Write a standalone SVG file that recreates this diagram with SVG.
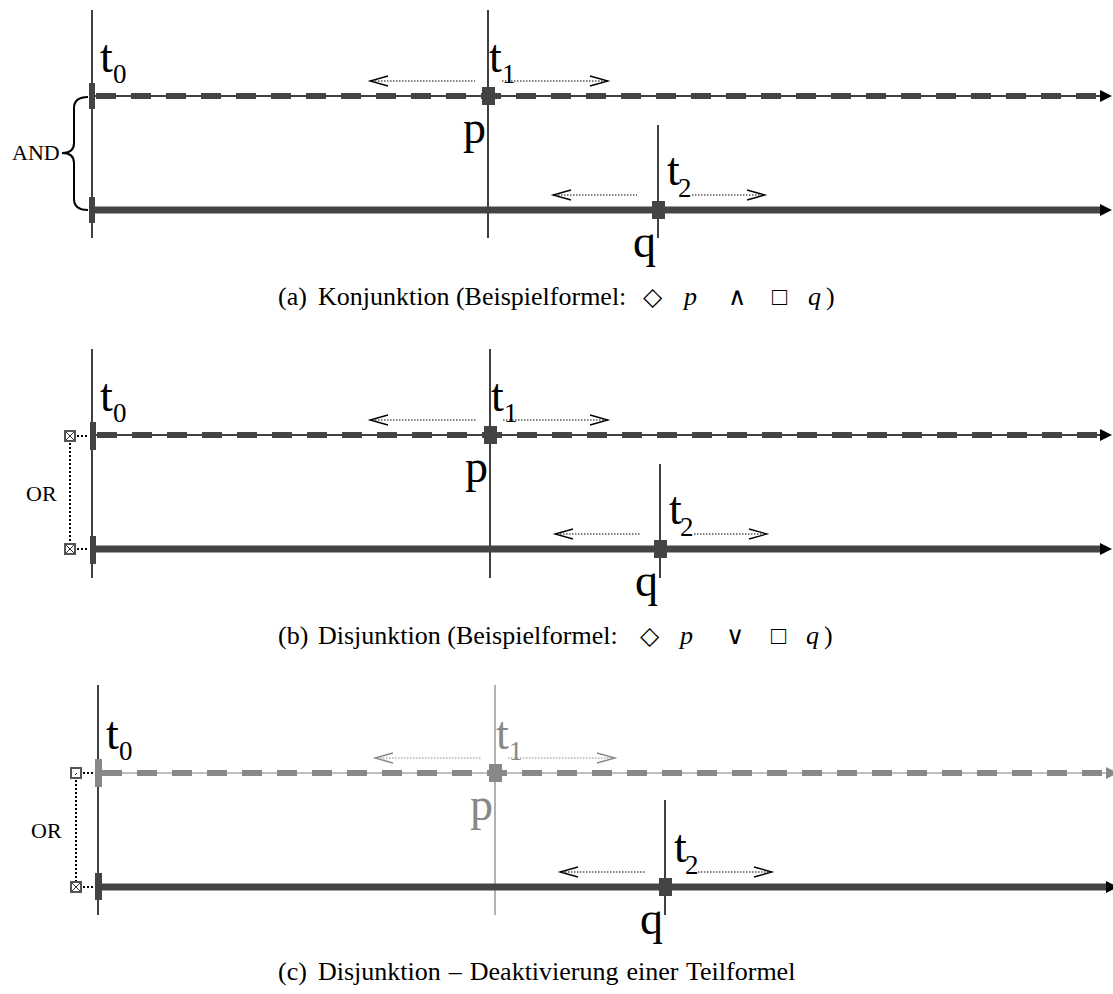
<svg xmlns="http://www.w3.org/2000/svg" width="1113" height="994" viewBox="0 0 1113 994">
<style>
.bg{fill:#fff}
.vl{stroke:#000;stroke-width:1.5;fill:none}
.vlg{stroke:#999;stroke-width:1.5;fill:none}
.thin{stroke:#000;stroke-width:1.5;fill:none}
.thing{stroke:#aaa;stroke-width:1.5;fill:none}
.dash{stroke:#444;stroke-width:6;stroke-dasharray:20 15;fill:none}
.dashg{stroke:#888;stroke-width:6;stroke-dasharray:20 15;fill:none}
.solid{stroke:#444;stroke-width:7;fill:none}
.tick{fill:#444}
.tickg{fill:#888}
.head{fill:#000}
.headg{fill:#888}
.dl{stroke:#000;stroke-width:1;stroke-dasharray:1.5 1.5;fill:none}
.ch{stroke:#000;stroke-width:1.3;fill:none}
.dlg{stroke:#888;stroke-width:1;stroke-dasharray:1.5 1.5;fill:none}
.chg{stroke:#888;stroke-width:1.3;fill:none}
.lbl{font-family:"Liberation Serif","DejaVu Serif",serif;font-size:46px;fill:#000}
.sub{font-family:"Liberation Serif","DejaVu Serif",serif;font-size:27px;fill:#000}
.lblg{font-family:"Liberation Serif","DejaVu Serif",serif;font-size:46px;fill:#888}
.subg{font-family:"Liberation Serif","DejaVu Serif",serif;font-size:27px;fill:#888}
.op{font-family:"Liberation Serif","DejaVu Serif",serif;font-size:22px;fill:#000}
.cap{font-family:"Liberation Serif","DejaVu Serif",serif;font-size:26px;fill:#000}
.sym{font-family:"DejaVu Sans ExtraLight","DejaVu Sans",sans-serif;font-weight:200;font-size:25px;fill:#000}
.it{font-style:italic}
.brace{stroke:#000;stroke-width:2;fill:none}
.dot{stroke:#000;stroke-width:2;stroke-dasharray:2 2;fill:none}
.box{fill:#fff;stroke:#555;stroke-width:2}
.x{stroke:#333;stroke-width:1}
</style>
<rect class="bg" x="0" y="0" width="1113" height="994"/>

<!-- ===== Panel (a) ===== -->
<g id="panel-a">
  <g id="a-axes">
    <line class="vl" x1="92" y1="10" x2="92" y2="238"/>
    <line class="vl" x1="488" y1="10" x2="488" y2="238"/>
    <line class="vl" x1="658" y1="125" x2="658" y2="238"/>
  </g>
  <g id="a-p-line">
    <line class="thin" x1="92" y1="96" x2="1102" y2="96"/>
    <line class="dash" x1="96" y1="96" x2="1100" y2="96"/>
    <polygon class="head" points="1100,90 1112,96 1100,102"/>
    <rect class="tick" x="89" y="83" width="6" height="26"/>
    <rect class="tick" x="482" y="87" width="13" height="18"/>
  </g>
  <g id="a-q-line">
    <line class="solid" x1="92" y1="210" x2="1101" y2="210"/>
    <polygon class="head" points="1100,204 1112,210 1100,216"/>
    <rect class="tick" x="89" y="197" width="6" height="26"/>
    <rect class="tick" x="652" y="201" width="13" height="18"/>
  </g>
  <g id="a-connectors">
    <line class="dl" x1="372" y1="81" x2="475" y2="81"/><path class="ch" d="M388,76 L370,81 L388,86"/>
    <line class="dl" x1="502" y1="81" x2="606" y2="81"/><path class="ch" d="M590,76 L608,81 L590,86"/>
    <line class="dl" x1="555" y1="195" x2="637" y2="195"/><path class="ch" d="M571,190 L553,195 L571,200"/>
    <line class="dl" x1="692" y1="195" x2="763" y2="195"/><path class="ch" d="M747,190 L765,195 L747,200"/>
  </g>
  <g id="a-labels">
    <text class="lbl" x="100" y="72">t</text><text class="sub" x="113" y="83">0</text>
    <text class="lbl" x="489" y="72">t</text><text class="sub" x="502" y="83">1</text>
    <text class="lbl" x="667" y="185">t</text><text class="sub" x="678" y="197">2</text>
    <text class="lbl" x="463" y="143">p</text>
    <text class="lbl" x="633" y="257">q</text>
  </g>
  <g id="a-and">
    <path class="brace" d="M88,97 C79,97 74,100 74,108 L74,143 C74,150 70,153 62,153 C70,153 74,156 74,163 L74,199 C74,207 79,210 88,210"/>
    <text class="op" x="12" y="160">AND</text>
  </g>
  <text class="cap" x="278" y="305">(a)</text>
  <text class="cap" x="318" y="305">Konjunktion (Beispielformel:</text>
  <text class="sym" x="643" y="305">◇</text>
  <text class="cap it" x="684" y="305">p</text>
  <text class="sym" x="728" y="305">∧</text>
  <text class="sym" x="772" y="305">□</text>
  <text class="cap it" x="808" y="305">q</text>
  <text class="cap" x="826" y="305">)</text>
</g>

<!-- ===== Panel (b) ===== -->
<g id="panel-b">
  <g id="b-axes">
    <line class="vl" x1="92" y1="349" x2="92" y2="578"/>
    <line class="vl" x1="490" y1="349" x2="490" y2="578"/>
    <line class="vl" x1="660" y1="464" x2="660" y2="578"/>
  </g>
  <g id="b-p-line">
    <line class="thin" x1="92" y1="435" x2="1102" y2="435"/>
    <line class="dash" x1="97" y1="435" x2="1100" y2="435"/>
    <polygon class="head" points="1100,429 1112,435 1100,441"/>
    <rect class="tick" x="90" y="422" width="6" height="28"/>
    <rect class="tick" x="484" y="426" width="13" height="18"/>
  </g>
  <g id="b-q-line">
    <line class="solid" x1="92" y1="549" x2="1101" y2="549"/>
    <polygon class="head" points="1100,543 1112,549 1100,555"/>
    <rect class="tick" x="90" y="536" width="6" height="28"/>
    <rect class="tick" x="654" y="540" width="13" height="18"/>
  </g>
  <g id="b-connectors">
    <line class="dl" x1="372" y1="420" x2="476" y2="420"/><path class="ch" d="M388,415 L370,420 L388,425"/>
    <line class="dl" x1="503" y1="420" x2="606" y2="420"/><path class="ch" d="M590,415 L608,420 L590,425"/>
    <line class="dl" x1="557" y1="534" x2="640" y2="534"/><path class="ch" d="M573,529 L555,534 L573,539"/>
    <line class="dl" x1="694" y1="534" x2="765" y2="534"/><path class="ch" d="M749,529 L767,534 L749,539"/>
  </g>
  <g id="b-labels">
    <text class="lbl" x="100" y="411">t</text><text class="sub" x="113" y="422">0</text>
    <text class="lbl" x="491" y="411">t</text><text class="sub" x="504" y="422">1</text>
    <text class="lbl" x="669" y="524">t</text><text class="sub" x="680" y="536">2</text>
    <text class="lbl" x="465" y="482">p</text>
    <text class="lbl" x="635" y="596">q</text>
  </g>
  <g id="b-or">
    <line class="dot" x1="77" y1="436" x2="89" y2="436"/>
    <line class="dot" x1="77" y1="549" x2="89" y2="549"/>
    <line class="dot" x1="70" y1="443" x2="70" y2="543"/>
    <rect class="box" x="65" y="431" width="10" height="10"/>
    <path class="x" d="M66,432 L74,440 M74,432 L66,440"/>
    <rect class="box" x="65" y="544" width="10" height="10"/>
    <path class="x" d="M66,545 L74,553 M74,545 L66,553"/>
    <text class="op" x="26" y="501">OR</text>
  </g>
  <text class="cap" x="278" y="644">(b)</text>
  <text class="cap" x="318" y="644">Disjunktion (Beispielformel:</text>
  <text class="sym" x="640" y="644">◇</text>
  <text class="cap it" x="680" y="644">p</text>
  <text class="sym" x="726" y="644">∨</text>
  <text class="sym" x="771" y="644">□</text>
  <text class="cap it" x="806" y="644">q</text>
  <text class="cap" x="824" y="644">)</text>
</g>

<!-- ===== Panel (c) ===== -->
<g id="panel-c">
  <g id="c-axes">
    <line class="vl" x1="98" y1="685" x2="98" y2="915"/>
    <line class="vlg" x1="495" y1="685" x2="495" y2="915"/>
    <line class="vl" x1="665" y1="800" x2="665" y2="915"/>
  </g>
  <g id="c-p-line">
    <line class="thing" x1="98" y1="773" x2="1108" y2="773"/>
    <line class="dashg" x1="102" y1="773" x2="1106" y2="773"/>
    <polygon class="headg" points="1106,767 1118,773 1106,779"/>
    <rect class="tickg" x="95" y="759" width="7" height="28"/>
    <rect class="tickg" x="489" y="764" width="13" height="18"/>
  </g>
  <g id="c-q-line">
    <line class="solid" x1="98" y1="887" x2="1107" y2="887"/>
    <polygon class="head" points="1106,881 1118,887 1106,893"/>
    <rect class="tick" x="95" y="873" width="7" height="27"/>
    <rect class="tick" x="659" y="878" width="13" height="18"/>
  </g>
  <g id="c-connectors">
    <line class="dlg" x1="377" y1="758" x2="482" y2="758"/><path class="chg" d="M393,753 L375,758 L393,763"/>
    <line class="dlg" x1="508" y1="758" x2="613" y2="758"/><path class="chg" d="M597,753 L615,758 L597,763"/>
    <line class="dl" x1="562" y1="872" x2="645" y2="872"/><path class="ch" d="M578,867 L560,872 L578,877"/>
    <line class="dl" x1="698" y1="872" x2="770" y2="872"/><path class="ch" d="M754,867 L772,872 L754,877"/>
  </g>
  <g id="c-labels">
    <text class="lbl" x="106" y="749">t</text><text class="sub" x="119" y="760">0</text>
    <text class="lblg" x="496" y="749">t</text><text class="subg" x="509" y="760">1</text>
    <text class="lbl" x="674" y="862">t</text><text class="sub" x="685" y="874">2</text>
    <text class="lblg" x="470" y="820">p</text>
    <text class="lbl" x="640" y="934">q</text>
  </g>
  <g id="c-or">
    <line class="dot" x1="83" y1="773" x2="95" y2="773"/>
    <line class="dot" x1="83" y1="887" x2="95" y2="887"/>
    <line class="dot" x1="76" y1="780" x2="76" y2="881"/>
    <rect class="box" x="71" y="768" width="10" height="10"/>
    <path class="x" d="M75,775 L77,773"/>
    <rect class="box" x="71" y="882" width="10" height="10"/>
    <path class="x" d="M72,883 L80,891 M80,883 L72,891"/>
    <text class="op" x="31" y="838">OR</text>
  </g>
  <text class="cap" x="278" y="980">(c)</text>
  <text class="cap" x="318" y="980" word-spacing="1.5">Disjunktion – Deaktivierung einer Teilformel</text>
</g>
</svg>
